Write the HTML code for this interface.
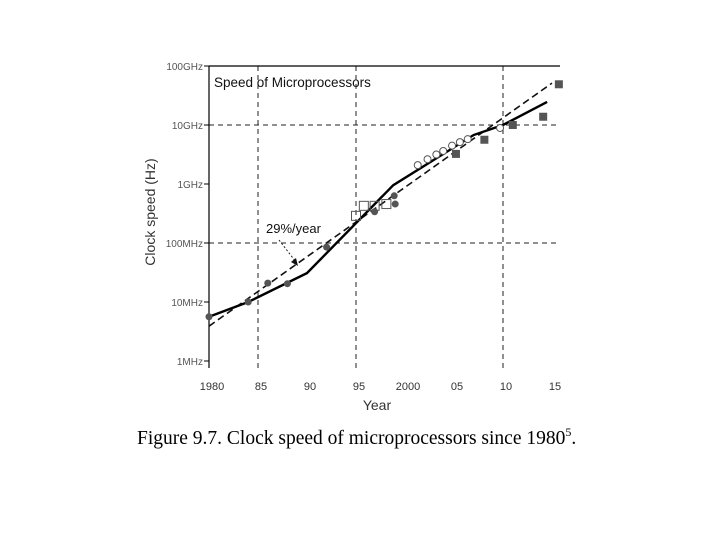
<!DOCTYPE html>
<html><head><meta charset="utf-8"><style>
body{margin:0;background:#fff;width:720px;height:540px;overflow:hidden}
svg text{font-family:"Liberation Sans",sans-serif}
</style></head><body>
<svg id="chart" width="720" height="540" viewBox="0 0 720 540" xmlns="http://www.w3.org/2000/svg">
<g id="grid"></g>
<g id="axes"></g>
<g id="marks"></g>
<text x="214" y="87" font-size="13.5" fill="#111">Speed of Microprocessors</text>
<text x="266" y="233" font-size="13" fill="#111">29%/year</text>
<line x1="279" y1="240" x2="296" y2="262" stroke="#222" stroke-width="1" stroke-dasharray="2,2"/>
<polygon points="298,266 291,262 296,258" fill="#111"/>
<text transform="translate(155,212) rotate(-90)" text-anchor="middle" font-size="14" fill="#333">Clock speed (Hz)</text>
<text x="377" y="410" text-anchor="middle" font-size="14" fill="#333">Year</text>
<text x="137" y="444" font-size="19.5" fill="#000" style="font-family:'Liberation Serif',serif">Figure 9.7. Clock speed of microprocessors since 1980<tspan font-size="12" dy="-8">5</tspan><tspan dy="8">.</tspan></text>
</svg>
<script>
const yearTicks=[1980,1985,1990,1995,2000,2005,2010,2015];
const yearLabels=["1980","85","90","95","2000","05","10","15"];
const logTicks=[11,10,9,8,7,6];
const logLabels=["100GHz","10GHz","1GHz","100MHz","10MHz","1MHz"];
const solidYears=[1980,1984,1990,1998.8,2007,2010,2014.5];
const solidLog=[6.75,7.0,7.49,8.98,9.83,10.0,10.39];
const trendYears=[1980,2015];
const trendLog=[6.59,10.71];
const circleYears=[1980,1984,1986,1988,1992,1996.9,1998.9,1999];
const circleLog=[6.75,7.0,7.32,7.31,7.93,8.53,8.80,8.66];
const openSqYears=[1995,1995.8,1996.9,1998.1];
const openSqLog=[8.46,8.63,8.63,8.66];
const openCircYears=[2001.3,2002.3,2003.2,2003.9,2004.8,2005.6,2006.4,2009.7];
const openCircLog=[9.32,9.42,9.5,9.56,9.65,9.71,9.76,9.95];
const filledSqYears=[2005.2,2008.1,2011,2014.1,2015.7];
const filledSqLog=[9.51,9.75,10.0,10.14,10.69];

const X=y=>209+(y-1980)*9.8;
const Y=l=>66+(11-l)*59;
const NS="http://www.w3.org/2000/svg";
function mk(parent,tag,attrs){const e=document.createElementNS(NS,tag);for(const k in attrs)e.setAttribute(k,attrs[k]);document.getElementById(parent).appendChild(e);return e;}

[1985,1995,2010].forEach(y=>{
 const g=mk('grid','line',{x1:X(y),x2:X(y),y1:Y(11),y2:368,stroke:'#222','stroke-dasharray':'5,4','stroke-width':1});
 
 
});
[10,8].forEach(l=>{
 const g=mk('grid','line',{x1:209,x2:560,y1:Y(l),y2:Y(l),stroke:'#222','stroke-dasharray':'5,4','stroke-width':1});
 
 
});
let a=mk('axes','line',{x1:209,x2:209,y1:Y(11),y2:368,stroke:'#000','stroke-width':1.2});


a=mk('axes','line',{x1:209,x2:560,y1:Y(11),y2:Y(11),stroke:'#000','stroke-width':1.2});


logTicks.forEach((l,i)=>{
 const t=mk('axes','text',{x:203,y:Y(l)+4,'text-anchor':'end','font-size':10,fill:'#555'});
 t.textContent=logLabels[i];
 
 
 const k=mk('axes','line',{x1:204,x2:209,y1:Y(l),y2:Y(l),stroke:'#000'});
 
 
});
yearTicks.forEach((y,i)=>{
 const t=mk('axes','text',{x:X(y)+3,y:390,'text-anchor':'middle','font-size':11,fill:'#333'});
 t.textContent=yearLabels[i];
 
 
});
let p=mk('marks','polyline',{points:trendYears.map((y,i)=>X(y)+','+Y(trendLog[i])).join(' '),fill:'none',stroke:'#111','stroke-width':1.6,'stroke-dasharray':'7,4'});


p=mk('marks','polyline',{points:solidYears.map((y,i)=>X(y)+','+Y(solidLog[i])).join(' '),fill:'none',stroke:'#000','stroke-width':2.4});


circleYears.forEach((y,i)=>{
 const c=mk('marks','circle',{cx:X(y),cy:Y(circleLog[i]),r:3.5,fill:'#555'});
 
 
});
openSqYears.forEach((y,i)=>{
 const c=mk('marks','rect',{x:X(y)-4.5,y:Y(openSqLog[i])-4.5,width:9,height:9,fill:'none',stroke:'#555','stroke-width':1});
 
 
});
openCircYears.forEach((y,i)=>{
 const c=mk('marks','circle',{cx:X(y),cy:Y(openCircLog[i]),r:3.5,fill:'#fff',stroke:'#555','stroke-width':1});
 
 
});
filledSqYears.forEach((y,i)=>{
 const c=mk('marks','rect',{x:X(y)-4,y:Y(filledSqLog[i])-4,width:8,height:8,fill:'#555'});
 
 
});
</script>
</body></html>
